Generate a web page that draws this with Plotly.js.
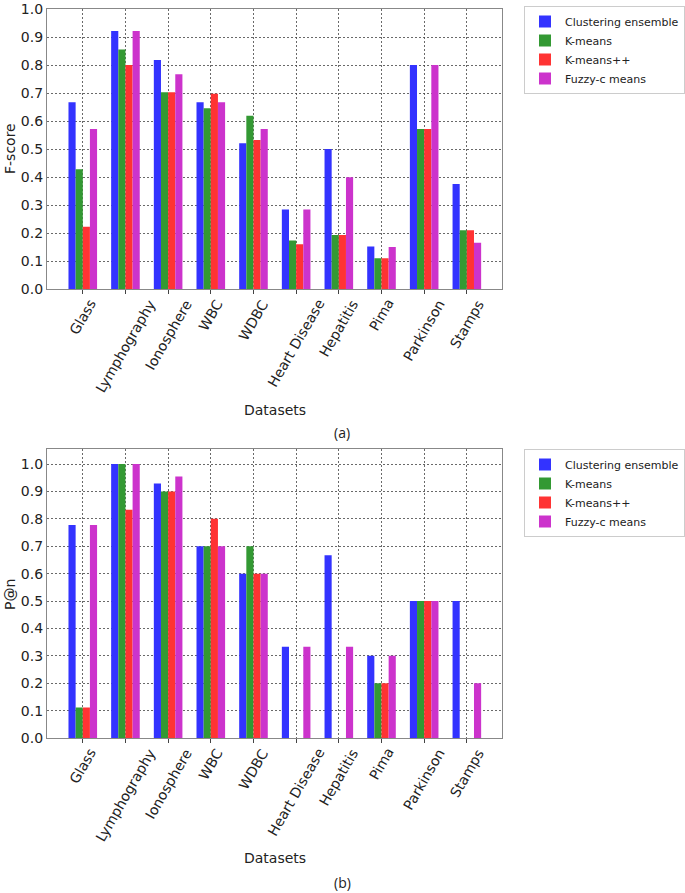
<!DOCTYPE html>
<html><head><meta charset="utf-8">
<script src="https://cdn.plot.ly/plotly-3.0.1.min.js"></script>
<style>html,body{margin:0;padding:0;background:#fff}</style>
</head><body><div id="chart" style="width:685px;height:893px"></div>
<script>
const datasets = ['Glass','Lymphography','Ionosphere','WBC','WDBC','Heart Disease','Hepatitis','Pima','Parkinson','Stamps'];
const methods = ['Clustering ensemble','K-means','K-means++','Fuzzy-c means'];

// (a) F-score
const fEnsemble = [0.667, 0.922, 0.818, 0.667, 0.521, 0.284, 0.500, 0.152, 0.800, 0.375];
const fKmeans   = [0.428, 0.856, 0.703, 0.646, 0.619, 0.173, 0.193, 0.110, 0.572, 0.210];
const fKmeansPP = [0.222, 0.800, 0.703, 0.698, 0.532, 0.160, 0.193, 0.110, 0.572, 0.210];
const fFuzzy    = [0.572, 0.922, 0.767, 0.667, 0.572, 0.284, 0.399, 0.150, 0.800, 0.165];

// (b) P@n
const pEnsemble = [0.778, 1.000, 0.929, 0.700, 0.600, 0.333, 0.667, 0.300, 0.500, 0.500];
const pKmeans   = [0.111, 1.000, 0.900, 0.700, 0.700, 0.000, 0.000, 0.200, 0.500, 0.000];
const pKmeansPP = [0.111, 0.833, 0.900, 0.800, 0.600, 0.000, 0.000, 0.200, 0.500, 0.000];
const pFuzzy    = [0.778, 1.000, 0.955, 0.700, 0.600, 0.333, 0.333, 0.300, 0.500, 0.200];

const colors = ['#3333ff','#339933','#ff3333','#cc33cc'];
const W = 685, H = 893;
const px = x => x / W;
const py = y => 1 - y / H;

const fSeries = [fEnsemble, fKmeans, fKmeansPP, fFuzzy];
const pSeries = [pEnsemble, pKmeans, pKmeansPP, pFuzzy];

const traces = [];
fSeries.forEach((vals, i) => traces.push({
  type: 'bar', x: datasets, y: vals, name: methods[i], xaxis: 'x', yaxis: 'y',
  marker: {color: colors[i], line: {width: 0}}, legend: 'legend', hoverinfo: 'skip'
}));
pSeries.forEach((vals, i) => traces.push({
  type: 'bar', x: datasets, y: vals, name: methods[i], xaxis: 'x2', yaxis: 'y2',
  marker: {color: colors[i], line: {width: 0}}, legend: 'legend2', hoverinfo: 'skip'
}));

const tickFont = {family: 'DejaVu Sans', size: 14, color: '#222'};
const gridStyle = {showgrid: true, gridcolor: '#444', griddash: '2px,2px', gridwidth: 0.8};
const xBase = Object.assign({
  type: 'category', range: [-0.84, 9.83], domain: [px(47), px(503)],
  showline: true, mirror: true, linecolor: '#888', linewidth: 1,
  ticks: 'outside', ticklen: 4, tickcolor: '#444', showticklabels: false, zeroline: false, fixedrange: true
}, gridStyle);
const yBase = Object.assign({
  showline: true, mirror: true, linecolor: '#888', linewidth: 1,
  ticks: '', dtick: 0.1, tick0: 0, tickformat: '.1f', ticklabeloverflow: 'allow',
  tickfont: tickFont, zeroline: false, fixedrange: true
}, gridStyle);

const annotations = [];
function addTickLabels(xref, yref) {
  datasets.forEach(d => annotations.push({
    text: d, x: d, y: 0, xref: xref, yref: yref, xanchor: 'center', yanchor: 'top',
    yshift: -5, textangle: -60, showarrow: false, font: tickFont
  }));
}
addTickLabels('x', 'y');
addTickLabels('x2', 'y2');

const titleFont = {family: 'DejaVu Sans', size: 14, color: '#222'};
annotations.push(
  {text: 'Datasets', x: px(275), y: py(410), xref: 'paper', yref: 'paper', showarrow: false, font: titleFont, xanchor: 'center', yanchor: 'middle'},
  {text: 'Datasets', x: px(275), y: py(858), xref: 'paper', yref: 'paper', showarrow: false, font: titleFont, xanchor: 'center', yanchor: 'middle'},
  {text: 'F-score', x: px(10), y: py(148), xref: 'paper', yref: 'paper', showarrow: false, font: titleFont, textangle: -90, xanchor: 'center', yanchor: 'middle'},
  {text: 'P@n', x: px(10), y: py(594), xref: 'paper', yref: 'paper', showarrow: false, font: titleFont, textangle: -90, xanchor: 'center', yanchor: 'middle'},
  {text: '(a)', x: px(343), y: py(433), xref: 'paper', yref: 'paper', showarrow: false, font: {family: 'Open Sans', size: 14, color: '#222'}, xanchor: 'center', yanchor: 'middle'},
  {text: '(b)', x: px(343), y: py(882), xref: 'paper', yref: 'paper', showarrow: false, font: {family: 'Open Sans', size: 14, color: '#222'}, xanchor: 'center', yanchor: 'middle'}
);

const legendBase = {
  xanchor: 'left', yanchor: 'top', bgcolor: '#fff', bordercolor: '#ccc', borderwidth: 1,
  font: {family: 'DejaVu Sans', size: 11, color: '#222'}, tracegroupgap: 0
};

const layout = {
  width: W, height: H, margin: {l: 0, r: 0, t: 0, b: 0},
  paper_bgcolor: '#fff', plot_bgcolor: '#fff', showlegend: true,
  barmode: 'group', bargap: 0.33, bargroupgap: 0,
  xaxis: Object.assign({}, xBase, {anchor: 'y'}),
  yaxis: Object.assign({}, yBase, {range: [0, 1.0005], domain: [py(289), py(9)], anchor: 'x'}),
  xaxis2: Object.assign({}, xBase, {anchor: 'y2'}),
  yaxis2: Object.assign({}, yBase, {range: [0, 1.055], domain: [py(738), py(449)], anchor: 'x2'}),
  legend: Object.assign({}, legendBase, {x: px(525), y: py(6)}),
  legend2: Object.assign({}, legendBase, {x: px(525), y: py(449)}),
  annotations: annotations
};

Plotly.newPlot('chart', traces, layout, {staticPlot: true, displayModeBar: false});
</script>
</body></html>
